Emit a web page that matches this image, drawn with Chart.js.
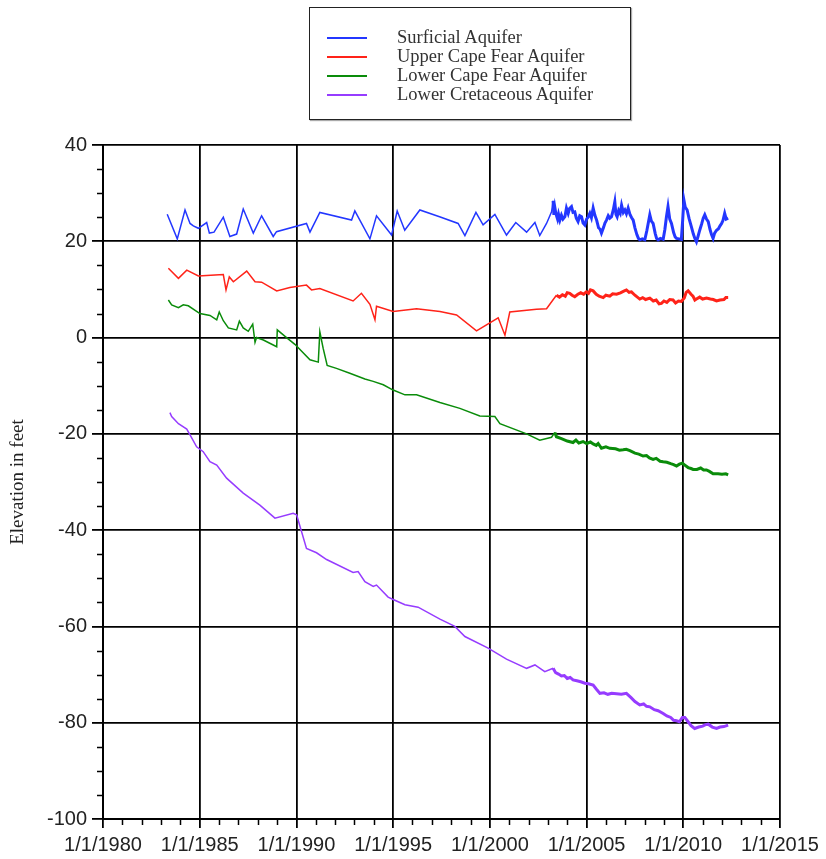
<!DOCTYPE html>
<html>
<head>
<meta charset="utf-8">
<title>Groundwater elevations</title>
<script src="https://cdn.jsdelivr.net/npm/chart.js@4/dist/chart.umd.min.js"></script>
<style>
  html, body { margin: 0; padding: 0; background: #fff; }
  #wrap { position: relative; width: 826px; height: 859px; }
  #legend {
    position: absolute; left: 309px; top: 7px; width: 320px; height: 111px;
    border: 1.5px solid #222; box-shadow: 1px 1px 1px #aaa; background: #fff;
    font-family: "Liberation Serif", "Times New Roman", serif; font-size: 18.5px; color: #333;
  }
  #legend .row { position: absolute; left: 0; height: 19px; width: 100%; }
  #legend .swatch { position: absolute; left: 17px; top: 9px; width: 40px; height: 2px; }
  #legend .label { position: absolute; left: 87px; top: 0; line-height: 19px; white-space: nowrap; }
</style>
</head>
<body>
<div id="wrap">
  <canvas id="c" width="826" height="859"></canvas>
  <div id="legend"></div>
</div>
<script>
// Water-level records, decimal year vs. elevation in feet
const surficialYears = [1983.32, 1983.84, 1984.24, 1984.5, 1984.67, 1984.93, 1985.36, 1985.5, 1985.74, 1986.22, 1986.56, 1986.91, 1987.25, 1987.77, 1988.2, 1988.8, 1988.97, 1990.52, 1990.7, 1991.21, 1992.85, 1993.02, 1993.8, 1994.14, 1994.92, 1995.21, 1995.6, 1996.38, 1997.4, 1998.36, 1998.71, 1999.28, 1999.65, 2000.26, 2000.86, 2001.34, 2001.9, 2002.33, 2002.58, 2002.93, 2003.19, 2003.27, 2003.31, 2003.36, 2003.41, 2003.5, 2003.55, 2003.62, 2003.7, 2003.78, 2003.88, 2003.96, 2004.05, 2004.12, 2004.22, 2004.3, 2004.39, 2004.47, 2004.56, 2004.65, 2004.74, 2004.82, 2004.91, 2005.0, 2005.08, 2005.17, 2005.25, 2005.34, 2005.43, 2005.52, 2005.62, 2005.7, 2005.77, 2005.88, 2005.95, 2006.03, 2006.12, 2006.2, 2006.29, 2006.38, 2006.46, 2006.52, 2006.58, 2006.66, 2006.74, 2006.81, 2006.9, 2006.98, 2007.06, 2007.15, 2007.25, 2007.33, 2007.41, 2007.5, 2007.6, 2007.68, 2007.75, 2007.88, 2008.01, 2008.12, 2008.2, 2008.27, 2008.35, 2008.44, 2008.55, 2008.62, 2008.7, 2008.82, 2008.96, 2009.05, 2009.13, 2009.21, 2009.3, 2009.39, 2009.5, 2009.58, 2009.65, 2009.78, 2009.9, 2009.97, 2010.03, 2010.1, 2010.2, 2010.3, 2010.42, 2010.52, 2010.6, 2010.68, 2010.76, 2010.85, 2010.95, 2011.03, 2011.11, 2011.2, 2011.29, 2011.38, 2011.46, 2011.54, 2011.62, 2011.72, 2011.82, 2011.9, 2011.98, 2012.05, 2012.14, 2012.22, 2012.32];
const surficialFeet = [25.6, 20.5, 26.5, 23.7, 23.2, 22.7, 23.9, 21.7, 21.9, 25.0, 21.0, 21.5, 26.7, 21.7, 25.3, 21.0, 22.0, 23.7, 21.9, 26.0, 24.4, 26.3, 20.5, 25.3, 21.3, 26.3, 22.3, 26.5, 25.1, 23.7, 21.2, 26.0, 23.4, 25.6, 21.3, 23.9, 21.9, 23.9, 21.2, 23.7, 26.1, 28.4, 25.5, 27.0, 25.8, 24.6, 25.6, 24.4, 25.4, 24.6, 25.1, 26.9, 25.8, 26.8, 27.2, 26.0, 26.1, 24.8, 24.1, 25.3, 25.1, 23.8, 23.4, 24.6, 25.0, 25.8, 24.9, 26.9, 25.4, 24.4, 22.8, 22.5, 21.7, 22.9, 23.8, 24.4, 25.3, 24.8, 25.1, 26.5, 28.2, 25.6, 25.1, 26.4, 25.8, 27.5, 26.0, 26.5, 25.7, 26.9, 25.5, 24.9, 24.4, 22.8, 21.4, 20.6, 20.3, 20.5, 20.3, 22.3, 24.0, 25.5, 24.2, 23.7, 21.6, 20.6, 20.3, 20.6, 20.4, 22.5, 25.1, 27.2, 24.6, 23.7, 21.8, 20.9, 20.6, 20.5, 20.4, 24.5, 28.6, 27.1, 26.5, 24.7, 23.0, 21.5, 20.6, 19.9, 21.0, 22.3, 23.6, 24.8, 25.5, 24.6, 24.1, 22.5, 21.4, 20.6, 21.7, 22.3, 22.6, 23.2, 23.7, 24.3, 25.8, 24.6, 24.8];

const upperCapeFearYears = [1983.38, 1983.9, 1984.33, 1984.93, 1985.79, 1986.22, 1986.36, 1986.53, 1986.74, 1987.43, 1987.86, 1988.2, 1988.98, 1989.66, 1990.52, 1990.78, 1991.21, 1992.93, 1993.36, 1993.8, 1994.06, 1994.14, 1995.0, 1996.21, 1997.42, 1998.28, 1999.31, 2000.43, 2000.78, 2001.03, 2002.41, 2002.93, 2003.44, 2003.6, 2003.75, 2003.9, 2004.0, 2004.13, 2004.25, 2004.39, 2004.55, 2004.7, 2004.85, 2004.99, 2005.1, 2005.2, 2005.34, 2005.5, 2005.65, 2005.86, 2006.0, 2006.2, 2006.35, 2006.55, 2006.75, 2006.9, 2007.06, 2007.2, 2007.32, 2007.5, 2007.75, 2007.9, 2008.05, 2008.27, 2008.45, 2008.6, 2008.75, 2008.87, 2009.0, 2009.15, 2009.3, 2009.47, 2009.6, 2009.75, 2009.9, 2010.05, 2010.15, 2010.25, 2010.4, 2010.5, 2010.6, 2010.68, 2010.85, 2011.0, 2011.2, 2011.4, 2011.55, 2011.72, 2011.9, 2012.1, 2012.2, 2012.32];
const upperCapeFearFeet = [14.4, 12.3, 14.0, 12.8, 13.0, 13.1, 9.9, 12.6, 11.6, 13.8, 11.6, 11.5, 9.7, 10.4, 10.9, 9.9, 10.2, 7.6, 9.2, 6.9, 3.7, 6.5, 5.4, 6.0, 5.4, 4.7, 1.4, 4.1, 0.5, 5.3, 5.9, 6.0, 8.8, 8.4, 8.9, 8.6, 9.3, 9.2, 8.8, 8.5, 9.0, 9.3, 9.0, 9.5, 9.2, 9.9, 9.7, 9.0, 8.6, 8.3, 8.8, 8.6, 9.1, 9.0, 9.3, 9.6, 9.9, 9.4, 9.5, 8.8, 8.0, 8.3, 7.9, 8.2, 7.6, 7.8, 7.0, 7.1, 7.6, 7.3, 7.9, 7.8, 7.2, 7.6, 7.5, 8.2, 9.4, 9.7, 9.0, 8.6, 7.8, 8.0, 8.4, 8.0, 8.2, 8.0, 7.9, 7.6, 7.8, 7.9, 8.3, 8.3];

const lowerCapeFearYears = [1983.38, 1983.55, 1983.9, 1984.15, 1984.41, 1985.01, 1985.53, 1985.88, 1986.01, 1986.22, 1986.48, 1986.91, 1987.05, 1987.25, 1987.51, 1987.74, 1987.86, 1987.94, 1988.29, 1988.98, 1989.01, 1989.49, 1989.92, 1990.7, 1991.13, 1991.21, 1991.38, 1991.59, 1992.07, 1992.76, 1993.54, 1993.97, 1994.49, 1995.0, 1995.61, 1996.21, 1997.42, 1998.45, 1999.48, 2000.26, 2000.52, 2001.9, 2002.58, 2003.19, 2003.36, 2003.44, 2003.7, 2004.0, 2004.3, 2004.45, 2004.6, 2004.82, 2005.0, 2005.2, 2005.34, 2005.5, 2005.6, 2005.77, 2006.0, 2006.2, 2006.5, 2006.7, 2006.89, 2007.05, 2007.24, 2007.5, 2007.7, 2007.92, 2008.1, 2008.25, 2008.44, 2008.6, 2008.8, 2008.96, 2009.15, 2009.35, 2009.5, 2009.65, 2009.8, 2009.95, 2010.08, 2010.25, 2010.4, 2010.51, 2010.7, 2010.9, 2011.05, 2011.2, 2011.35, 2011.54, 2011.8, 2012.0, 2012.2, 2012.32];
const lowerCapeFearFeet = [7.8, 6.8, 6.2, 6.8, 6.6, 5.0, 4.6, 3.7, 5.3, 3.5, 2.0, 1.6, 3.4, 2.0, 1.3, 2.8, -1.0, 0.0, -0.5, -1.9, 1.6, 0.0, -1.4, -4.6, -5.1, 1.2, -2.2, -5.8, -6.4, -7.4, -8.6, -9.1, -9.8, -10.9, -11.9, -11.9, -13.5, -14.7, -16.3, -16.4, -17.9, -20.0, -21.3, -20.7, -19.7, -20.6, -21.0, -21.5, -21.8, -21.3, -21.9, -21.6, -22.0, -21.7, -22.1, -22.4, -22.0, -23.0, -22.7, -23.0, -23.1, -23.4, -23.3, -23.2, -23.5, -24.0, -24.2, -24.6, -24.5, -25.0, -25.3, -25.1, -25.7, -25.8, -25.9, -26.2, -26.4, -26.7, -26.3, -26.1, -26.5, -27.0, -27.2, -27.4, -27.4, -27.1, -27.5, -27.5, -27.8, -28.3, -28.3, -28.4, -28.3, -28.5];

const lowerCretaceousYears = [1983.46, 1983.55, 1983.9, 1984.33, 1984.5, 1984.84, 1985.18, 1985.53, 1985.88, 1986.39, 1987.25, 1988.11, 1988.89, 1989.83, 1990.01, 1990.52, 1991.04, 1991.56, 1992.93, 1993.19, 1993.54, 1993.97, 1994.14, 1994.74, 1995.0, 1995.61, 1996.29, 1997.42, 1998.19, 1998.71, 1999.91, 2000.86, 2001.9, 2002.33, 2002.84, 2003.27, 2003.4, 2003.55, 2003.7, 2003.85, 2004.0, 2004.15, 2004.3, 2004.5, 2004.7, 2004.91, 2005.1, 2005.34, 2005.5, 2005.69, 2005.9, 2006.1, 2006.3, 2006.55, 2006.8, 2007.06, 2007.3, 2007.5, 2007.75, 2007.95, 2008.1, 2008.27, 2008.5, 2008.7, 2008.96, 2009.15, 2009.35, 2009.5, 2009.65, 2009.8, 2009.95, 2010.08, 2010.25, 2010.4, 2010.59, 2010.8, 2011.0, 2011.15, 2011.29, 2011.5, 2011.72, 2011.9, 2012.1, 2012.32];
const lowerCretaceousFeet = [-15.6, -16.4, -17.9, -19.0, -20.2, -22.7, -23.7, -25.8, -26.5, -29.2, -32.3, -34.8, -37.5, -36.5, -36.8, -43.8, -44.7, -46.1, -48.8, -48.6, -50.7, -51.7, -51.4, -53.9, -54.4, -55.5, -56.0, -58.5, -60.0, -62.1, -64.5, -66.8, -68.7, -68.0, -69.4, -68.7, -69.6, -69.9, -70.3, -70.2, -70.8, -70.6, -71.1, -71.3, -71.5, -71.8, -71.9, -72.2, -73.0, -73.9, -73.8, -74.1, -73.9, -74.0, -74.1, -73.9, -74.8, -75.6, -76.3, -76.1, -76.6, -76.7, -77.3, -77.5, -78.1, -78.6, -78.9, -79.5, -79.6, -79.8, -78.9, -78.9, -79.8, -80.6, -81.2, -80.9, -80.7, -80.4, -80.3, -80.9, -81.2, -80.9, -80.8, -80.5];

const seriesNames = ['Surficial Aquifer', 'Upper Cape Fear Aquifer', 'Lower Cape Fear Aquifer', 'Lower Cretaceous Aquifer'];
const seriesColors = ['rgb(35,55,255)', 'rgb(255,35,25)', 'rgb(10,140,10)', 'rgb(150,60,255)'];

// Frequent (recorder) measurements start here and are drawn heavier
const recorderStart = 2003.2;

function pairs(xs, ys) { return xs.map((x, i) => ({ x: x, y: ys[i] })); }

const seriesData = [
  pairs(surficialYears, surficialFeet),
  pairs(upperCapeFearYears, upperCapeFearFeet),
  pairs(lowerCapeFearYears, lowerCapeFearFeet),
  pairs(lowerCretaceousYears, lowerCretaceousFeet)
];

const datasets = seriesData.map((d, i) => ({
  label: seriesNames[i],
  data: d,
  borderColor: seriesColors[i],
  backgroundColor: seriesColors[i],
  borderWidth: 1.5,
  pointRadius: 0,
  tension: 0,
  segment: {
    borderWidth: ctx => ctx.p0.parsed.x >= recorderStart ? 3 : 1.5
  }
}));

// Short minor tick marks: every 5 ft on the left axis, every year on the bottom axis
const minorTicks = {
  id: 'minorTicks',
  afterDraw(chart) {
    const { ctx, scales: { x, y }, chartArea } = chart;
    ctx.save();
    ctx.strokeStyle = '#000';
    ctx.lineWidth = 1.5;
    ctx.beginPath();
    for (let v = -100; v <= 40; v += 5) {
      if (v % 20 === 0) continue;
      const py = Math.round(y.getPixelForValue(v)) + 0.5;
      ctx.moveTo(chartArea.left - 6, py);
      ctx.lineTo(chartArea.left, py);
    }
    for (let yr = 1980; yr <= 2015; yr++) {
      if (yr % 5 === 0) continue;
      const px = Math.round(x.getPixelForValue(yr)) + 0.5;
      ctx.moveTo(px, chartArea.bottom);
      ctx.lineTo(px, chartArea.bottom + 6);
    }
    ctx.stroke();
    ctx.restore();
  }
};

const tickFont = { family: '"Liberation Sans", Arial, sans-serif', size: 20 };

new Chart(document.getElementById('c'), {
  type: 'line',
  data: { datasets: datasets },
  options: {
    responsive: false,
    animation: false,
    layout: { padding: { top: 145, right: 46, left: 0, bottom: 0 } },
    plugins: { legend: { display: false }, tooltip: { enabled: false } },
    scales: {
      x: {
        type: 'linear',
        min: 1980, max: 2015,
        afterFit(s) { s.height = 40; },
        ticks: {
          stepSize: 5, autoSkip: false, maxRotation: 0, padding: 5,
          color: '#222', font: tickFont,
          callback: v => '1/1/' + v
        },
        grid: { color: '#000', lineWidth: 1.8, tickLength: 9 },
        border: { color: '#000', width: 2 }
      },
      y: {
        min: -100, max: 40,
        afterFit(s) { s.width = 103; },
        ticks: { stepSize: 20, padding: 5, color: '#222', font: tickFont },
        grid: { color: '#000', lineWidth: 1.8, tickLength: 11 },
        border: { color: '#000', width: 2 },
        title: {
          display: true, text: 'Elevation in feet', color: '#222',
          font: { family: '"Liberation Serif", "Times New Roman", serif', size: 19 },
          padding: { top: 7, bottom: 0 }
        }
      }
    }
  },
  plugins: [minorTicks]
});

// Boxed legend
const legend = document.getElementById('legend');
seriesNames.forEach((name, i) => {
  const row = document.createElement('div');
  row.className = 'row';
  row.style.top = (20 + i * 18.9) + 'px';
  const sw = document.createElement('div');
  sw.className = 'swatch';
  sw.style.background = seriesColors[i];
  const lb = document.createElement('div');
  lb.className = 'label';
  lb.textContent = name;
  row.appendChild(sw);
  row.appendChild(lb);
  legend.appendChild(row);
});
</script>
</body>
</html>
